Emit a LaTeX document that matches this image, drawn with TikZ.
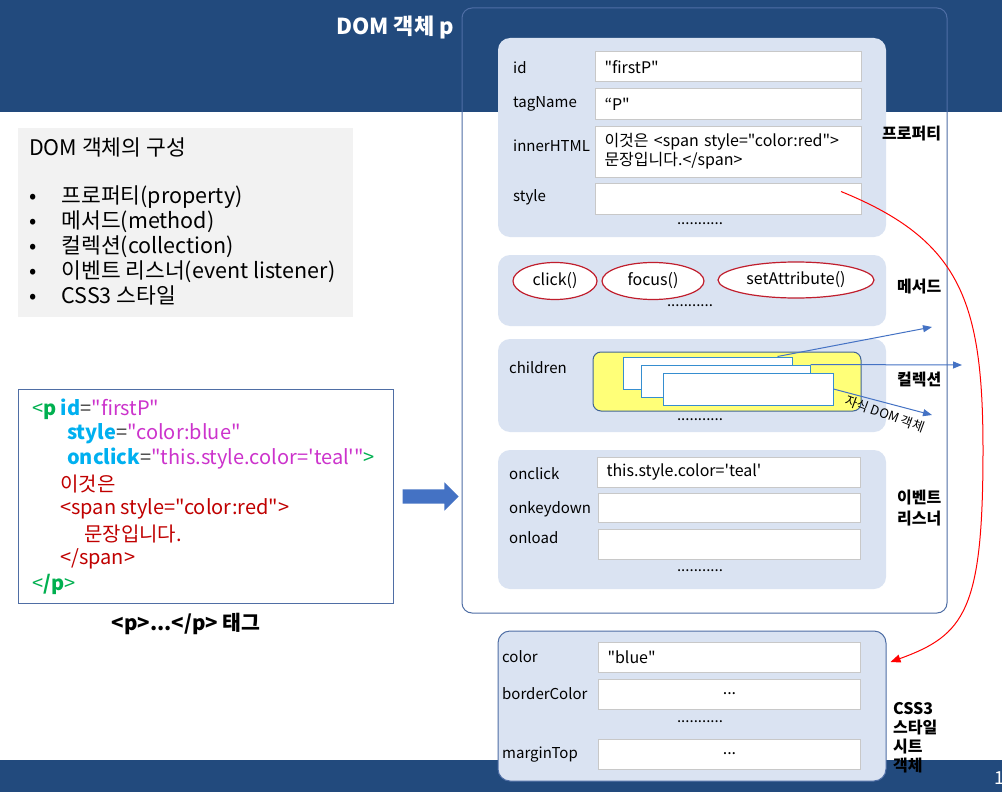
\documentclass[tikz,border=0pt]{standalone}
\usepackage{fontspec}
\setmainfont{Noto Sans CJK KR}[Ligatures=TeXOff]
\usetikzlibrary{positioning,shapes.geometric,shapes.arrows,arrows.meta}
\definecolor{hdrblue}{RGB}{34,74,125}
\definecolor{panelblue}{RGB}{218,227,242}
\definecolor{frameblue}{RGB}{79,110,165}
\definecolor{boxgray}{RGB}{200,200,200}
\definecolor{ovalred}{RGB}{192,30,45}
\definecolor{arrowblue}{RGB}{68,114,196}
\definecolor{chipyellow}{RGB}{255,255,120}
\definecolor{chipedge}{RGB}{65,100,150}
\definecolor{listgray}{RGB}{242,242,242}
\definecolor{codegreen}{RGB}{0,176,80}
\definecolor{codecyan}{RGB}{0,176,240}
\definecolor{codemag}{RGB}{204,51,204}
\definecolor{codered}{RGB}{192,0,0}
\newcommand\fieldfont{\fontsize{15}{18}\selectfont}
\newcommand\valfont{\fontsize{16}{19}\selectfont}
\newcommand\listfont{\fontsize{21.5}{24.8}\selectfont}
\newcommand\codefont{\fontsize{20}{24}\selectfont}
\begin{document}
\begin{tikzpicture}[x=1pt,y=-1pt,
every node/.style={inner sep=0pt, font=\fieldfont},
panel/.style={fill=panelblue, rounded corners=12pt, minimum width=388pt},
valbox/.style={draw=boxgray, line width=1pt, fill=white, anchor=west, inner xsep=9pt,
  text width=248pt, align=left, minimum height=30pt, font=\valfont},
dotbox/.style={valbox, align=center},
fieldname/.style={anchor=west},
sidelabel/.style={anchor=west, align=left, font=\bfseries\fontsize{16}{19}\selectfont},
oval/.style={ellipse, draw=ovalred, line width=1.2pt, fill=white, minimum height=37pt, font=\fontsize{16}{19}\selectfont},
childbox/.style={draw=arrowblue!80!cyan, line width=1pt, fill=white, minimum width=169pt, minimum height=32pt},
childarrow/.style={draw=arrowblue, line width=1pt, -{Triangle[length=9pt,width=7pt]}},
codeline/.style={anchor=west, font=\codefont}
]
\useasboundingbox (0,0) rectangle (1002,792);
\fill[white] (0,0) rectangle (1002,792);
\fill[hdrblue] (0,0) rectangle (1002,112);
\fill[hdrblue] (0,760) rectangle (1002,792);
\node[anchor=west, text=white, font=\bfseries\fontsize{22}{25}\selectfont] (title) at (336,27) {DOM 객체 p};
\node[anchor=west, text=white, font=\fontsize{18}{20}\selectfont] (pagenum) at (994,778) {1};

% DOM object frame
\node[draw=frameblue, line width=1pt, rounded corners=10pt, minimum width=485pt, minimum height=605pt] (domobj) at (704.5,310.5) {};

% properties
\node[panel, minimum height=199pt] (props) at (692,137.5) {};
\node[fieldname] (idk) at (513,68) {id};
\node[valbox] (idv) at (595,67) {"firstP"};
\node[fieldname] (tagk) at (513,104) {tagName};
\node[valbox] (tagv) at (595,104) {“P"};
\node[fieldname] (htmlk) at (513,146) {innerHTML};
\node[valbox, minimum height=51pt] (htmlv) at (595,151.5) {이것은 <span style="color:red">\\문장입니다.</span>};
\node[fieldname] (stylek) at (513,197) {style};
\node[valbox, minimum height=31pt] (stylev) at (595,198.5) {};
\node (propdots) at (700,224) {...........};
\node[sidelabel] (proplbl) at (882,134) {프로퍼티};

% methods
\node[panel, minimum height=71pt] (methods) at (692,290.5) {};
\node[oval, minimum width=84pt] (click) at (555,281) {click()};
\node[oval, minimum width=102pt] (focus) at (653,281) {focus()};
\node[oval, minimum width=156pt, minimum height=36pt] (setattr) at (796,280) {setAttribute()};
\node (methdots) at (690,306) {...........};
\node[sidelabel] (methlbl) at (897,287) {메서드};

% collection
\node[panel, minimum height=93pt] (coll) at (692,385.5) {};
\node[fieldname] (childk) at (509,368) {children};
\node[draw=chipedge, line width=1pt, fill=chipyellow, rounded corners=8pt, minimum width=268pt, minimum height=59pt] (chips) at (727,381.5) {};
\node[childbox] (child1) at (707.5,373) {};
\node[childbox] (child2) at (725.5,381) {};
\node[childbox, minimum width=170pt] (child3) at (748,389) {};
\coordinate (out1) at (932,327);
\coordinate (out2) at (962,365);
\coordinate (out3) at (932,415);
\draw[childarrow] ([xshift=-15pt]child1.north east) -- (out1);
\draw[childarrow] (child2.north east) -- (out2);
\draw[childarrow] (child3.east) -- (out3);
\node[rotate=-20, font=\fontsize{13}{15}\selectfont] (childlbl) at (885,414) {자식 DOM 객체};
\node (colldots) at (700,420) {...........};
\node[sidelabel] (colllbl) at (897,380) {컬렉션};

% event listeners
\node[panel, minimum height=139pt] (events) at (692,519.5) {};
\node[fieldname] (clickk) at (509,474) {onclick};
\node[valbox, text width=245pt] (clickv) at (597,472) {this.style.color='teal'};
\node[fieldname] (keyk) at (509,509) {onkeydown};
\node[valbox, text width=244pt, minimum height=29pt] (keyv) at (598,507.5) {};
\node[fieldname] (loadk) at (509,538) {onload};
\node[valbox, text width=244pt] (loadv) at (598,544) {};
\node (evdots) at (700,571) {...........};
\node[sidelabel, font=\bfseries\fontsize{16}{21}\selectfont] (evlbl) at (897,508) {이벤트\\리스너};

% CSS3 style object
\node[panel, draw=frameblue, line width=1pt, minimum height=150pt] (css) at (692,706) {};
\node[fieldname] (colork) at (502,657) {color};
\node[valbox, text width=244pt] (colorv) at (598,657.5) {"blue"};
\node[fieldname] (borderk) at (502,694) {borderColor};
\node[dotbox, text width=244pt] (borderv) at (598,694) {...};
\node (cssdots) at (700,722) {...........};
\node[fieldname] (margink) at (502,755) {marginTop};
\node[dotbox, text width=244pt] (marginv) at (598,754) {...};
\node[sidelabel, font=\bfseries\fontsize{16}{19}\selectfont] (csslbl) at (893,738) {CSS3\\스타일\\시트\\객체};

\draw[red, line width=1pt, -{Triangle[length=10pt,width=8pt]}] ([xshift=-21pt,yshift=-9pt]stylev.north east)
  .. controls (960,240) and (983,300) .. (983,450)
  .. controls (983,610) and (965,635) .. ([xshift=4pt,yshift=44pt]css.east);

% composition list
\node[fill=listgray, minimum width=335pt, minimum height=189pt] (compbox) at (185.5,222.5) {};
\node[anchor=west, font=\listfont] (comptitle) at (29,147) {DOM 객체의 구성};
\node[anchor=north west, font=\listfont, align=left] (complist) at (29,186) {%
•\hspace{25pt}프로퍼티(property)\\
•\hspace{25pt}메서드(method)\\
•\hspace{25pt}컬렉션(collection)\\
•\hspace{25pt}이벤트 리스너(event listener)\\
•\hspace{25pt}CSS3 스타일};

% HTML source
\node[draw=frameblue, line width=1pt, fill=white, minimum width=375pt, minimum height=214pt] (code) at (205.5,496) {};
\node[codeline] (c1) at (32,409) {\textcolor{codegreen}{<\textbf{p}}\ \textcolor{codecyan}{\textbf{id}}\textcolor{darkgray}{=}\textcolor{codemag}{"firstP"}};
\node[codeline] (c2) at (67,434) {\textcolor{codecyan}{\textbf{style}}\textcolor{darkgray}{=}\textcolor{codemag}{"color:blue"}};
\node[codeline] (c3) at (67,459) {\textcolor{codecyan}{\textbf{onclick}}\textcolor{darkgray}{=}\textcolor{codemag}{"this.style.color='teal'"}\textcolor{codegreen}{>}};
\node[codeline, text=codered] (c4) at (60,484) {이것은};
\node[codeline, text=codered] (c5) at (60,509) {<span style="color:red">};
\node[codeline, text=codered] (c6) at (84,534) {문장입니다.};
\node[codeline, text=codered] (c7) at (60,559) {</span>};
\node[codeline] (c8) at (32,584) {\textcolor{codegreen}{<\textbf{/p}>}};
\node[font=\bfseries\fontsize{20.5}{23}\selectfont] (codelbl) at (186,624) {<p>...</p> 태그};

\node[single arrow, fill=arrowblue, inner xsep=0pt, inner ysep=7pt, single arrow head extend=7pt, minimum height=56pt] (toobj) at (427,496.5) {};
\end{tikzpicture}
\end{document}
